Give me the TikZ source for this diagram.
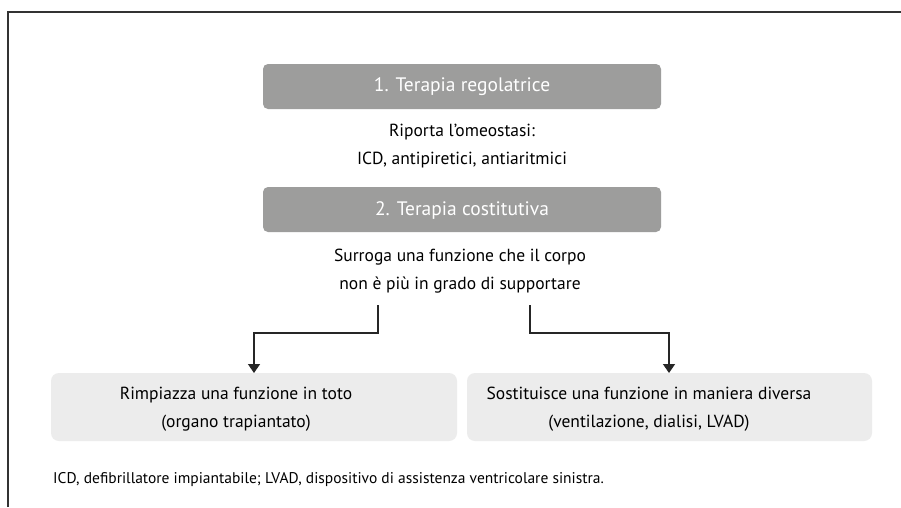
\documentclass[tikz,border=0pt]{standalone}
\usepackage{fontspec}
\setmainfont{PT Sans}
\newfontfamily\lightfont{PT Sans}
\usetikzlibrary{arrows.meta}
\definecolor{darkbox}{HTML}{9D9D9C}
\definecolor{lightbox}{HTML}{ECECEC}
\definecolor{framec}{HTML}{333333}
\begin{document}
\begin{tikzpicture}[x=1pt,y=-1pt,
  headbox/.style={fill=darkbox, rounded corners=5pt, draw=none},
  subbox/.style={fill=lightbox, rounded corners=8pt, draw=none},
  headtext/.style={text=white, font=\lightfont\fontsize{19.5}{22}\selectfont, inner sep=0pt},
  bodytext/.style={text=black, font=\fontsize{17.5}{27.5}\selectfont, align=center, inner sep=0pt},
  conn/.style={draw=black!85, line width=1.4pt, -{Triangle[length=9pt,width=12pt]}},
]
\useasboundingbox (0,0) rectangle (901,507);
\fill[white] (0,0) rectangle (901,507);
% frame
\draw[framec, line width=1.3pt] (8,507) -- (8,12) -- (901,12);
% head boxes
\path[headbox] (263,64) rectangle (661,109);
\node[headtext] (h1) at (462,87) {1. Terapia regolatrice};
\node[bodytext] (t1) at (462,146) {Riporta l’omeostasi:\\ICD, antipiretici, antiaritmici};
\path[headbox] (263,187) rectangle (661,232);
\node[headtext] (h2) at (462,210) {2. Terapia costitutiva};
\node[bodytext] (t2) at (460,271) {Surroga una funzione che il corpo\\non è più in grado di supportare};
% bottom boxes
\path[subbox] (51,373) rectangle (457,441);
\path[subbox] (467,373) rectangle (872,441);
\node[bodytext] (b1) at (236,409) {Rimpiazza una funzione in toto\\(organo trapiantato)};
\node[bodytext] (b2) at (649,409) {Sostituisce una funzione in maniera diversa\\(ventilazione, dialisi, LVAD)};
% connectors
\coordinate (s1) at (378,305);
\coordinate (s2) at (530,305);
\coordinate (e1) at (254,373);
\coordinate (e2) at (669,373);
\draw[conn] (s1) -- (378,333) -- (254,333) -- (e1);
\draw[conn] (s2) -- (530,333) -- (669,333) -- (e2);
% footnote
\node[anchor=west, inner sep=0pt, font=\fontsize{15.5}{18}\selectfont] (fn) at (53,480) {ICD, defibrillatore impiantabile; LVAD, dispositivo di assistenza ventricolare sinistra.};
\end{tikzpicture}
\end{document}
